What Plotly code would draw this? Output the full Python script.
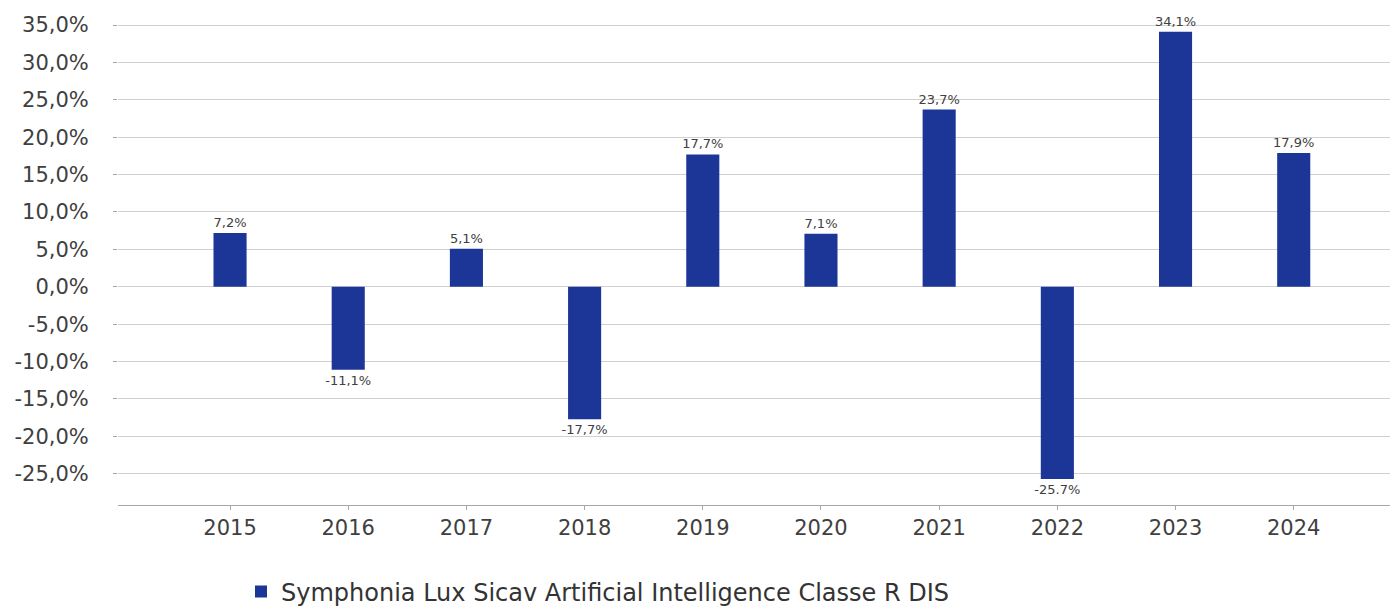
import plotly.graph_objects as go

years = ["2015", "2016", "2017", "2018", "2019", "2020", "2021", "2022", "2023", "2024"]
returns = [7.2, -11.1, 5.1, -17.7, 17.7, 7.1, 23.7, -25.7, 34.1, 17.9]
labels = ["7,2%", "-11,1%", "5,1%", "-17,7%", "17,7%", "7,1%", "23,7%", "-25.7%", "34,1%", "17,9%"]
series_name = "Symphonia Lux Sicav Artificial Intelligence Classe R DIS"
y_ticks = [35, 30, 25, 20, 15, 10, 5, 0, -5, -10, -15, -20, -25]
y_tick_text = [f"{v:.1f}%".replace(".", ",") for v in y_ticks]

FONT = "DejaVu Sans, sans-serif"
TXT = "#404040"

# page body has an 8px margin: figure is drawn 8px right/down
W, H = 1398, 601
ML, MT, MB, MR = 110, 12, 104, 0
PW = W - ML - MR
PH = H - MT - MB

fig = go.Figure()
fig.add_trace(go.Bar(
    x=years, y=returns, name=series_name,
    marker=dict(color="#1c3697", line=dict(width=0)),
    width=0.28,
    text=labels, textposition="outside", cliponaxis=False,
    constraintext="none",
    textfont=dict(family=FONT, size=13, color=TXT),
))

fig.update_layout(
    width=W, height=H,
    margin=dict(l=ML, r=MR, t=MT, b=MB, autoexpand=False),
    paper_bgcolor="white", plot_bgcolor="white",
    font=dict(family=FONT, color=TXT),
    showlegend=True,
    legend=dict(orientation="h", x=(233 - ML) / PW, xanchor="left",
                y=(PH + MT - 584) / PH, yanchor="middle",
                font=dict(family=FONT, size=24, color="#333333"),
                itemwidth=30),
)

fig.update_xaxes(
    type="category", range=[-0.948, 9.95], automargin=False,
    showline=True, linecolor="#a6a6a6", linewidth=1,
    ticks="outside", ticklen=4, tickcolor="#a6a6a6",
    tickfont=dict(family=FONT, size=21, color=TXT),
    showgrid=False, zeroline=False,
)
fig.update_yaxes(
    range=[-29.18, 35.67], automargin=False,
    tickvals=y_ticks, ticktext=y_tick_text,
    showgrid=True, gridcolor="#d0d0d0", gridwidth=1,
    zeroline=True, zerolinecolor="#d0d0d0", zerolinewidth=1,
    ticks="outside", ticklen=4, tickcolor="#a6a6a6",
    ticklabelstandoff=20,
    tickfont=dict(family=FONT, size=21, color=TXT),
    showline=False,
)

fig.write_html("out.html")
